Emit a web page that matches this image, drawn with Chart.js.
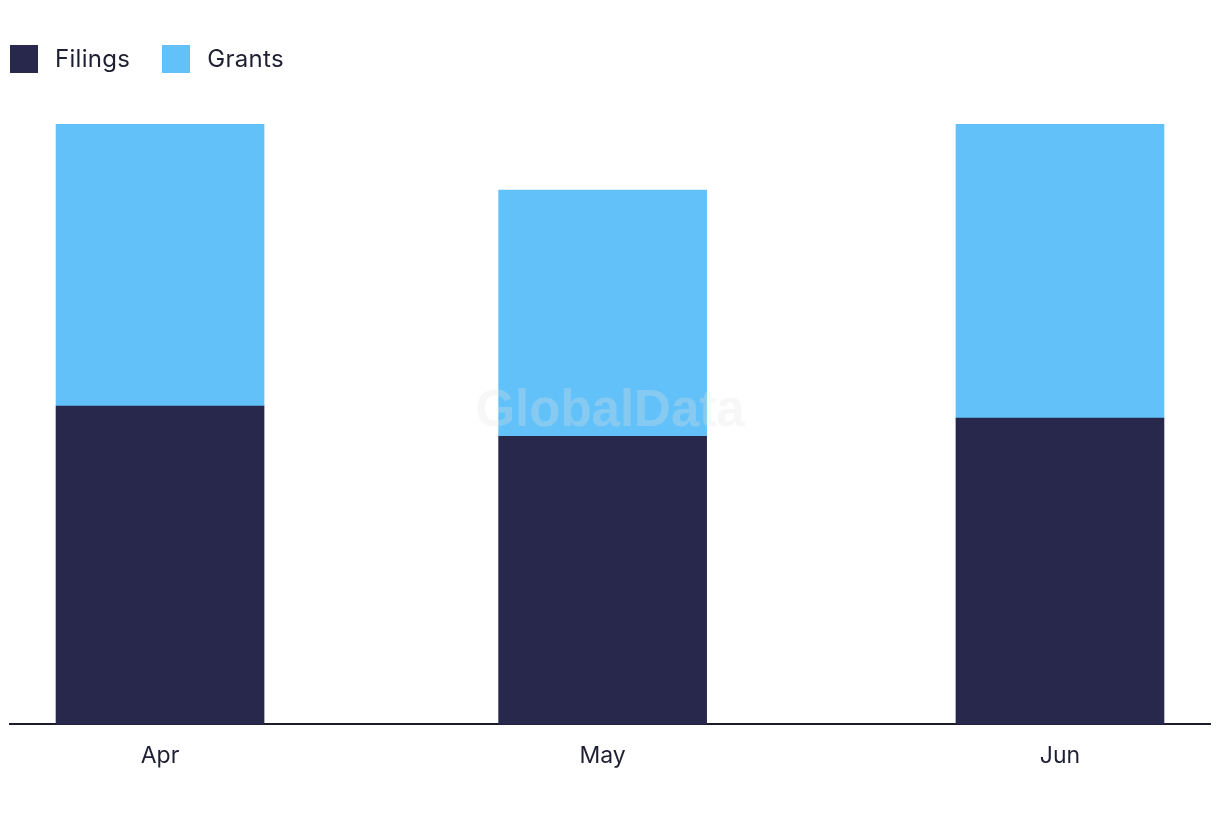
<!DOCTYPE html>
<html>
<head>
<meta charset="utf-8">
<script src="https://cdn.jsdelivr.net/npm/chart.js@4.4.1/dist/chart.umd.min.js"></script>
<style>
  html, body { margin: 0; padding: 0; background: #fff; }
  #wrap { position: relative; width: 1220px; height: 822px; }
  #legend { position: absolute; left: 10px; top: 44px; display: flex; font-family: Inter, "Noto Sans", sans-serif; font-size: 24px; letter-spacing: 0.3px; color: #1f1f33; }
  .item { display: flex; align-items: center; margin-right: 32px; }
  .box { width: 28px; height: 28px; margin-right: 17px; }
</style>
</head>
<body>
<div id="wrap">
  <canvas id="chart" width="1220" height="822"></canvas>
  <div id="legend"></div>
</div>
<script>
// months shown, and the first day of each (bars sit on a date axis)
const months = ['Apr', 'May', 'Jun'];
const monthStarts = ['2024-04-01', '2024-05-01', '2024-06-01'];
const filings = [53, 48, 51];
const grants = [47, 41, 49];

const seriesNames = ['Filings', 'Grants'];
const seriesColors = ['#28284C', '#63C1F9'];

document.addEventListener('DOMContentLoaded', function() {
    const t0 = Date.parse(monthStarts[0]);
    const days = monthStarts.map(d => Math.round((Date.parse(d) - t0) / 86400000));
    const totals = filings.map((v, i) => v + grants[i]);

    // legend
    const legend = document.getElementById('legend');
    seriesNames.forEach((name, i) => {
        legend.innerHTML += '<div class="item"><div class="box" style="background:' + seriesColors[i] + '"></div>' + name + '</div>';
    });

    const watermark = {
        id: 'watermark',
        afterDatasetsDraw(chart) {
            const c = chart.ctx;
            const a = chart.chartArea;
            c.save();
            c.font = 'bold 51px "Liberation Sans", Arial, sans-serif';
            c.fillStyle = 'rgba(228,228,228,0.28)';
            c.textAlign = 'center';
            c.textBaseline = 'middle';
            c.fillText('GlobalData', (a.left + a.right) / 2, 412);
            c.restore();
        }
    };

    const ctx = document.getElementById('chart').getContext('2d');
    new Chart(ctx, {
        type: 'bar',
        data: {
            datasets: [
                {
                    label: seriesNames[0],
                    data: filings.map((v, i) => ({ x: days[i], y: v })),
                    backgroundColor: seriesColors[0],
                    barThickness: 208
                },
                {
                    label: seriesNames[1],
                    data: grants.map((v, i) => ({ x: days[i], y: v })),
                    backgroundColor: seriesColors[1],
                    barThickness: 208
                }
            ]
        },
        options: {
            responsive: false,
            animation: false,
            layout: { padding: { left: 10, right: 10, top: 124, bottom: 34 } },
            plugins: {
                legend: { display: false },
                tooltip: { enabled: false }
            },
            scales: {
                x: {
                    type: 'linear',
                    stacked: true,
                    offset: false,
                    min: -10.17,
                    max: days[days.length - 1] + 10.17,
                    grid: { display: false, drawTicks: false },
                    border: { display: true, color: '#1b1b2f', width: 2 },
                    afterBuildTicks: function(axis) {
                        axis.ticks = days.map(v => ({ value: v }));
                    },
                    ticks: {
                        padding: 18,
                        color: '#1f1f33',
                        font: { family: 'Inter, "Noto Sans", sans-serif', size: 23 },
                        maxRotation: 0,
                        autoSkip: false,
                        callback: function(value) {
                            const i = days.indexOf(value);
                            return i >= 0 ? months[i] : '';
                        }
                    }
                },
                y: {
                    stacked: true,
                    display: false,
                    min: 0,
                    max: Math.max(...totals)
                }
            }
        },
        plugins: [watermark]
    });
});
</script>
</body>
</html>
